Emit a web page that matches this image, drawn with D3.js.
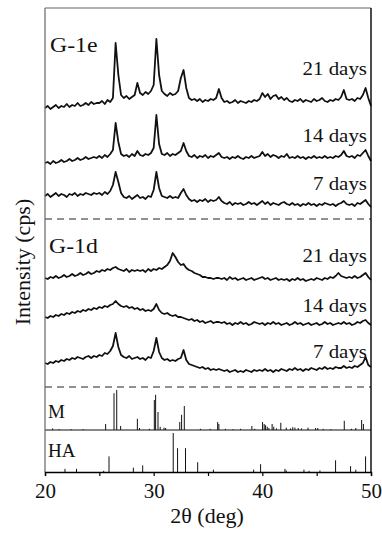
<!DOCTYPE html>
<html><head><meta charset="utf-8">
<script src="https://cdn.jsdelivr.net/npm/d3@7"></script>
<style>body{margin:0;background:#fff}svg{display:block}text{font-family:"Liberation Serif","Times New Roman",serif;fill:#111}</style>
</head><body>
<script>
// 2θ grid: 20 .. 50 step 0.25
const twoThetaStart = 20, twoThetaStep = 0.25;
const xTicks = [20, 25, 30, 35, 40, 45, 50];
const xTickLabels = [20, 30, 40, 50];

// Intensities (relative cps)
const g1e21 = [7,9,6,8,10,7,9,8,11,8,10,9,12,9,10,12,10,13,11,12,
  12,14,11,15,13,17,72,40,20,17,19,16,18,20,32,22,20,23,21,24,30,76,40,24,
  21,19,22,20,21,24,37,45,27,17,15,16,14,16,13,15,14,16,15,17,26,17,
  13,14,12,13,15,12,14,13,12,14,13,15,14,16,22,18,21,16,19,20,16,18,
  15,17,14,13,15,14,16,13,15,14,13,16,14,15,17,14,13,15,14,16,15,18,25,16,
  15,16,14,17,16,20,27,17,9];
const g1e14 = [7,8,6,9,7,8,10,8,9,11,9,10,12,10,11,13,11,12,13,12,
  14,12,15,13,16,20,47,28,16,14,15,13,16,14,19,15,14,16,15,17,22,55,26,16,
  15,17,14,16,15,17,19,27,19,14,13,15,12,14,13,15,12,14,13,15,17,13,
  12,13,11,13,12,14,12,11,13,12,14,12,13,14,18,14,16,13,15,14,12,14,
  13,16,12,13,12,14,12,13,11,13,12,14,12,13,12,14,12,13,12,14,13,15,19,14,
  13,14,12,15,14,17,20,14,9];
const g1e7 = [14,16,13,15,17,14,16,15,13,16,15,17,14,16,15,17,16,15,17,16,
  17,15,18,16,19,25,38,28,17,13,12,14,11,13,15,12,13,11,14,13,20,38,22,14,
  13,12,14,12,13,12,17,21,15,11,9,10,8,10,9,11,8,10,9,10,13,9,
  7,6,8,5,7,6,7,5,6,8,6,7,5,7,9,6,8,5,7,6,5,7,
  8,6,5,7,5,6,4,6,5,7,5,6,4,6,5,7,6,5,6,4,6,7,9,6,
  5,6,4,7,6,8,10,6,3];
const g1d21 = [12,11,13,12,14,12,13,15,13,14,16,14,15,17,15,16,18,16,17,19,
  18,20,19,21,20,22,23,21,20,19,21,18,20,19,20,19,20,18,21,19,21,20,22,21,
  23,25,29,37,33,28,25,26,22,20,19,17,16,15,13,13,12,12,11,12,12,11,
  12,10,13,11,12,10,11,12,10,11,12,10,11,12,13,11,12,10,11,12,10,11,
  10,11,9,11,10,12,10,11,9,10,11,10,12,11,10,12,11,13,12,14,17,14,13,12,
  13,12,14,12,13,15,17,13,10];
const g1d14 = [18,17,19,18,20,19,21,20,22,21,23,22,24,23,25,24,26,25,27,26,
  28,27,29,28,30,31,34,31,29,28,29,27,28,26,27,25,26,24,25,24,26,31,25,22,
  21,22,20,19,20,18,18,17,16,15,16,14,15,13,14,12,13,14,12,13,13,12,
  13,11,12,10,12,11,13,11,12,10,11,13,12,11,12,10,12,11,13,11,12,10,
  11,12,10,11,13,11,12,10,11,12,10,11,12,10,11,13,11,12,10,11,12,11,13,11,
  12,10,11,13,12,14,15,12,10];
const g1d7 = [17,16,18,17,19,18,20,19,21,20,22,21,23,22,21,23,24,22,24,23,
  25,24,27,26,29,34,47,33,25,23,22,24,21,22,23,21,22,20,23,22,29,42,28,22,
  20,21,19,20,19,21,22,30,20,16,15,14,13,12,13,11,12,10,11,10,11,10,
  9,10,8,9,10,8,9,8,10,9,8,10,9,10,9,11,9,10,8,10,9,11,
  10,9,11,10,12,10,11,9,11,10,12,11,10,12,11,13,11,12,11,13,12,12,14,12,
  13,12,14,13,15,17,23,15,13];

const seriesNames = ["G-1e 21 days","G-1e 14 days","G-1e 7 days","G-1d 21 days","G-1d 14 days","G-1d 7 days"];
const dayLabels = ["21 days","14 days","7 days","21 days","14 days","7 days"];
const groupLabels = ["G-1e","G-1d"];

// Reference stick patterns: [2θ, relative intensity %]
const stickM = [[20.7,4],[21.3,2],[22.4,2],[23.5,2],[25.58,15],[26.35,92],[26.6,100],[26.96,10],[28.5,28],[28.7,5],[29.6,3],
  [30.06,75],[30.18,88],[30.4,45],[30.6,8],[30.95,6],[31.1,5],[32.4,20],[32.57,38],[32.82,60],[34.3,3],[35.2,3],
  [35.89,20],[36.0,15],[36.6,3],[37.3,2],[38.0,3],[39.04,10],[39.3,3],[40.02,20],[40.17,15],[40.3,12],[40.45,8],
  [40.6,5],[40.9,15],[41.05,8],[41.3,4],[41.7,18],[42.2,6],[42.6,4],[42.8,7],[43.0,6],[43.3,5],[43.6,4],[44.2,6],
  [44.9,5],[45.1,5],[45.6,3],[46.3,2],[47.54,23],[48.2,3],[48.6,5],[49.14,25],[49.3,15]];
const stickHA = [[21.84,8],[22.9,8],[25.4,3],[25.89,40],[28.13,11],[28.99,17],[31.8,100],[32.2,61],[32.93,61],
  [34.05,25],[35.5,6],[39.2,6],[39.84,20],[42.08,8],[42.2,4],[43.83,6],[44.3,3],[45.3,4],[46.74,30],[48.12,15],[48.6,6],[49.5,40]];

const W = 382, H = 538;
const L = 45, R = 371, T = 8, B = 472;
const sepDash1 = 219, sepDash2 = 387, sepSolid = 430;

const svg = d3.select("body").append("svg").attr("width", W).attr("height", H);
const x = d3.scaleLinear().domain([20, 50]).range([L, R]);
const y = d3.scaleLinear().domain([0, 379]).range([sepDash2, T]);
const offsets = [272, 217, 177, 97, 52, 7];
const series = [g1e21, g1e14, g1e7, g1d21, g1d14, g1d7];
const labelBase = [75, 142, 190, 262, 312, 358];

const line = d3.line().x(d => x(d[0])).y(d => d[1]);
series.forEach((vals, k) => {
  const pts = vals.map((v, i) => [twoThetaStart + i * twoThetaStep, y(offsets[k] + v)]);
  svg.append("path").attr("d", line(pts)).attr("fill", "none")
    .attr("stroke", "#111").attr("stroke-width", 1.8).attr("stroke-linejoin", "round");
  svg.append("text").attr("x", 367).attr("y", labelBase[k]).attr("text-anchor", "end")
    .attr("font-size", 19).attr("transform", `translate(367,0) scale(1.1,1) translate(-367,0)`)
    .text(dayLabels[k]);
});

svg.append("text").attr("x", 50).attr("y", 52).attr("font-size", 22)
  .attr("transform", "translate(50,0) scale(1.08,1) translate(-50,0)").text(groupLabels[0]);
svg.append("text").attr("x", 49).attr("y", 253).attr("font-size", 22)
  .attr("transform", "translate(49,0) scale(1.08,1) translate(-49,0)").text(groupLabels[1]);

// separators
[sepDash1, sepDash2].forEach(yy => svg.append("line").attr("x1", L).attr("x2", R).attr("y1", yy).attr("y2", yy)
  .attr("stroke", "#222").attr("stroke-width", 1).attr("stroke-dasharray", "7,5"));
svg.append("line").attr("x1", L).attr("x2", R).attr("y1", sepSolid).attr("y2", sepSolid).attr("stroke", "#111").attr("stroke-width", 1.2);

// sticks
const yM = d3.scaleLinear().domain([0, 100]).range([sepSolid, sepSolid - 40]);
const yHA = d3.scaleLinear().domain([0, 100]).range([B, B - 39]);
svg.append("g").selectAll("line").data(stickM).join("line")
  .attr("x1", d => x(d[0])).attr("x2", d => x(d[0])).attr("y1", yM(0)).attr("y2", d => yM(d[1]))
  .attr("stroke", "#111").attr("stroke-width", 1);
svg.append("g").selectAll("line").data(stickHA).join("line")
  .attr("x1", d => x(d[0])).attr("x2", d => x(d[0])).attr("y1", yHA(0)).attr("y2", d => yHA(d[1]))
  .attr("stroke", "#111").attr("stroke-width", 1);
svg.append("text").attr("x", 48).attr("y", 418).attr("font-size", 19).text("M");
svg.append("text").attr("x", 48).attr("y", 457).attr("font-size", 19).text("HA");

// frame
svg.append("line").attr("x1", L).attr("x2", R).attr("y1", T).attr("y2", T).attr("stroke", "#666").attr("stroke-width", 1.2);
svg.append("line").attr("x1", L).attr("x2", L).attr("y1", T).attr("y2", B).attr("stroke", "#666").attr("stroke-width", 1.2);
svg.append("line").attr("x1", R).attr("x2", R).attr("y1", T).attr("y2", B).attr("stroke", "#000").attr("stroke-width", 1.4);

// x axis
const xAxis = d3.axisBottom(x).tickValues(xTicks).tickSize(4)
  .tickFormat(d => xTickLabels.includes(d) ? d : "");
const gx = svg.append("g").attr("transform", `translate(0,${B})`).call(xAxis);
gx.select(".domain").attr("stroke", "#000").attr("stroke-width", 1.4);
gx.selectAll(".tick line").attr("stroke", "#000").attr("stroke-width", 1.2);
gx.selectAll(".tick text").attr("font-size", 21).attr("dy", "0.9em")
  .attr("font-family", "Liberation Serif, serif").attr("fill", "#111");

svg.append("text").attr("x", 207).attr("y", 523).attr("text-anchor", "middle").attr("font-size", 22).text("2θ (deg)");
svg.append("text").attr("transform", "translate(30,262) rotate(-90)").attr("text-anchor", "middle")
  .attr("font-size", 22).text("Intensity (cps)");
</script>
</body></html>
